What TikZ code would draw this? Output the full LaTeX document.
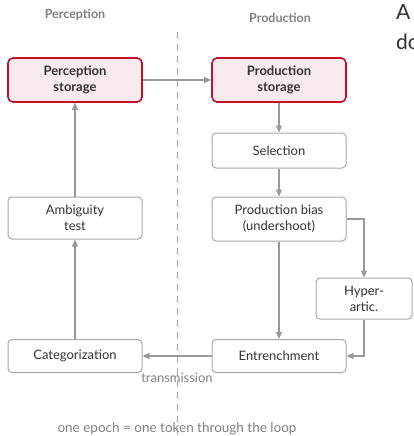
\documentclass[tikz,border=0pt]{standalone}
\usepackage{fontspec}
\setmainfont{Lato}
\usetikzlibrary{arrows.meta,positioning}
\definecolor{boxgray}{HTML}{A8A8A8}
\definecolor{arrgray}{HTML}{999999}
\definecolor{txt}{HTML}{333333}
\definecolor{hdr}{HTML}{808080}
\definecolor{redb}{HTML}{C0102E}
\definecolor{pinkf}{HTML}{F8EAED}
\tikzset{
  procbox/.style={draw=boxgray, line width=1pt, rounded corners=4pt, fill=white, text=txt, font=\fontsize{13}{16}\selectfont, align=center, inner sep=0pt},
  storebox/.style={draw=redb, line width=1.6pt, rounded corners=5pt, fill=pinkf, text=txt, font=\bfseries\fontsize{13}{16}\selectfont, align=center, inner sep=0pt},
  flow/.style={draw=arrgray, line width=1.2pt, -{Triangle[length=7pt,width=6pt]}},
  header/.style={text=hdr, font=\bfseries\fontsize{12.5}{15}\selectfont},
}
\begin{document}
\begin{tikzpicture}[x=1pt,y=-1pt]
\useasboundingbox (0,0) rectangle (413,436);
\clip (0,0) rectangle (413,436);
\node[header] (hperc) at (75,15) {Perception};
\node[header] (hprod) at (280,18) {Production};
\node[text=txt, font=\fontsize{21}{24}\selectfont, anchor=base west, inner sep=0pt] (cutA) at (396,20) {A};
\node[text=txt, font=\fontsize{21}{24}\selectfont, anchor=base west, inner sep=0pt] (cutdo) at (396,50) {do};
\coordinate (dtop) at (177,32);
\coordinate (dbot) at (177,436);
\draw[boxgray, line width=1pt, dash pattern=on 7pt off 5pt] (dtop) -- (dbot);
\node[storebox, minimum width=134pt, minimum height=44pt] (pstore) at (75,80) {Perception\\storage};
\node[storebox, minimum width=134pt, minimum height=44pt] (prstore) at (279,80) {Production\\storage};
\node[procbox, minimum width=134pt, minimum height=35pt] (sel) at (279,150.5) {Selection};
\node[procbox, minimum width=134pt, minimum height=44pt] (bias) at (279,219) {Production bias\\(undershoot)};
\node[procbox, minimum width=96pt, minimum height=41pt] (hyper) at (364,298.5) {Hyper-\\artic.};
\node[procbox, minimum width=134pt, minimum height=42pt] (amb) at (75,218) {Ambiguity\\test};
\node[procbox, minimum width=134pt, minimum height=33pt] (cat) at (75,356) {Categorization};
\node[procbox, minimum width=134pt, minimum height=33pt] (ent) at (279,356) {Entrenchment};
\draw[flow] (pstore) -- (prstore);
\draw[flow] (prstore) -- (sel);
\draw[flow] (sel) -- (bias);
\draw[flow] (bias.east) -| (hyper.north);
\draw[flow] (bias) -- (ent);
\draw[flow] (hyper.south) |- (ent.east);
\draw[flow] (ent) -- node[below=13pt, text=hdr, font=\fontsize{13}{15}\selectfont] (trans) {transmission} (cat);
\draw[flow] (cat) -- (amb);
\draw[flow] (amb) -- (pstore);
\node[text=hdr, font=\fontsize{13.5}{16}\selectfont] (foot) at (177,429) {one epoch = one token through the loop};
\end{tikzpicture}
\end{document}
